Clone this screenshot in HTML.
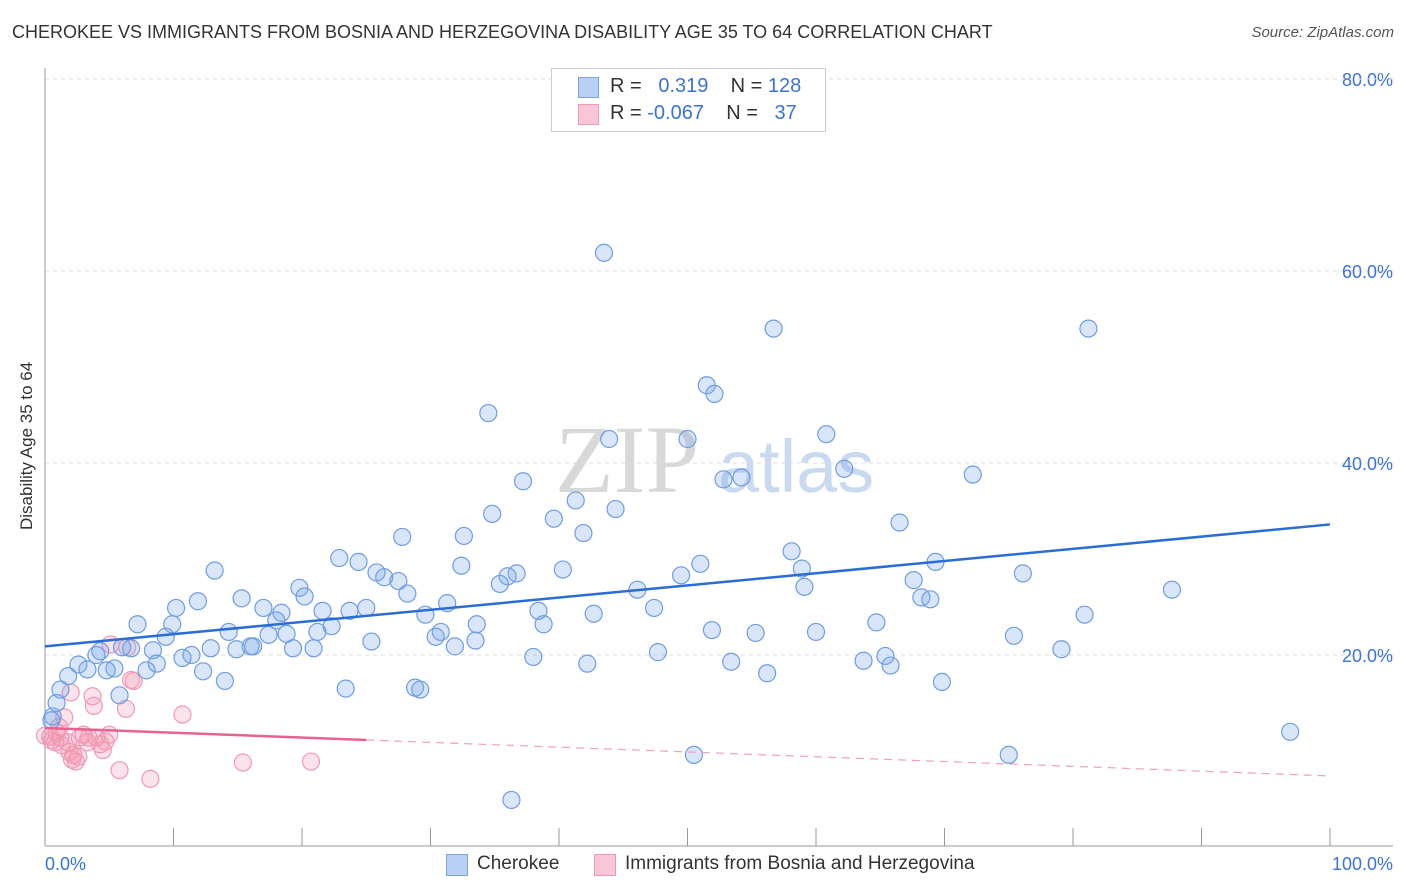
<!DOCTYPE html>
<html><head><meta charset="utf-8"><style>
body{margin:0;background:#fff;font-family:"Liberation Sans",sans-serif;}
#wrap{position:relative;width:1406px;height:892px;overflow:hidden;}
.t{position:absolute;white-space:nowrap;}
</style></head><body>
<div id="wrap">
<div class="t" style="left:12px;top:22px;font-size:18px;color:#333;">CHEROKEE VS IMMIGRANTS FROM BOSNIA AND HERZEGOVINA DISABILITY AGE 35 TO 64 CORRELATION CHART</div>
<div class="t" style="right:12px;top:24px;font-size:15px;color:#555;font-style:italic;">Source: ZipAtlas.com</div>
<div class="t" style="left:-48px;top:445px;font-size:17px;color:#333;transform:rotate(-90deg);transform-origin:center;width:150px;text-align:center;">Disability Age 35 to 64</div>
<svg id="plot" width="1406" height="892" style="position:absolute;left:0;top:0">
<text x="555" y="492" font-family="Liberation Serif,serif" font-size="96" fill="#d8d8d8">ZIP</text>
<text x="718" y="492" font-family="Liberation Sans,sans-serif" font-size="74" fill="#c9d9f0">atlas</text>
</svg>
<div style="position:absolute;left:551px;top:68px;width:273px;height:62px;border:1px solid #ccc;background:#fff;font-size:20px;">
<div style="position:absolute;left:26px;top:8px;width:19px;height:19px;background:#b8d0f3;border:1px solid #7aa3e0;"></div>
<div style="position:absolute;left:26px;top:35px;width:19px;height:19px;background:#f9c6d5;border:1px solid #ee9ab4;"></div>
<div class="t" style="left:58px;top:6px;color:#333;">R = <span style="color:#3b73d0">&nbsp;&nbsp;0.319</span>&nbsp;&nbsp;&nbsp;&nbsp;N = <span style="color:#3b73d0">128</span></div>
<div class="t" style="left:58px;top:33px;color:#333;">R = <span style="color:#3b73d0">-0.067</span>&nbsp;&nbsp;&nbsp;&nbsp;N = <span style="color:#3b73d0">&nbsp;&nbsp;37</span></div>
</div>
<div style="position:absolute;left:446px;top:853px;font-size:19px;color:#333;">
<div style="position:absolute;left:0;top:1px;width:20px;height:20px;background:#b8d0f3;border:1px solid #7aa3e0;"></div>
<div class="t" style="left:31px;top:0;">Cherokee</div>
<div style="position:absolute;left:148px;top:1px;width:20px;height:20px;background:#f9c6d5;border:1px solid #ee9ab4;"></div>
<div class="t" style="left:179px;top:0;">Immigrants from Bosnia and Herzegovina</div>
</div>
</div>
<script>
const yTicks=[20,40,60,80];
const yTickLabels=["20.0%","40.0%","60.0%","80.0%"];
const xTicks=[0,10,20,30,40,50,60,70,80,90,100];
const xEndLabels=["0.0%","100.0%"];
const blueX=[43.5,56.7,81.2,51.5,52.1,34.5,43.9,50.0,60.8,62.2,52.8,54.2,72.2,37.2,41.3,44.4,34.8,39.6,66.5,41.9,27.8,32.6,22.9,24.4,58.1,51.0,69.3,32.4,13.2,25.8,26.4,27.5,36.7,36.0,40.3,58.9,76.1,49.5,19.8,20.2,28.2,35.4,67.6,46.1,59.1,87.7,15.3,11.9,68.2,68.9,10.2,17.0,18.4,21.6,23.7,25.0,31.3,38.4,47.4,42.7,29.6,18.0,7.2,9.9,22.3,33.6,38.8,80.9,64.7,14.3,17.4,18.8,21.2,30.8,30.4,51.9,55.3,60.0,75.4,9.4,25.4,33.5,12.9,16.2,14.9,16.0,19.3,20.9,31.9,4.3,6.7,8.4,6.0,4.0,11.4,10.7,38.0,47.7,79.1,65.4,63.7,8.7,2.6,5.4,3.3,53.4,42.2,65.8,4.8,1.8,7.9,12.3,14.0,56.2,69.8,1.2,5.8,23.4,28.8,29.2,0.9,0.6,0.5,50.5,75.0,96.9,36.3];
const blueY=[61.9,54.0,54.0,48.1,47.2,45.2,42.5,42.5,43.0,39.4,38.3,38.5,38.8,38.1,36.1,35.2,34.7,34.2,33.8,32.7,32.3,32.4,30.1,29.7,30.8,29.5,29.7,29.3,28.8,28.6,28.1,27.7,28.5,28.2,28.9,29.0,28.5,28.3,27.0,26.1,26.4,27.4,27.8,26.8,27.1,26.8,25.9,25.6,26.0,25.8,24.9,24.9,24.4,24.6,24.6,24.9,25.4,24.6,24.9,24.3,24.2,23.6,23.2,23.2,23.0,23.2,23.2,24.2,23.4,22.4,22.1,22.2,22.4,22.4,21.9,22.6,22.3,22.4,22.0,21.9,21.4,21.5,20.7,20.9,20.6,20.9,20.7,20.7,20.9,20.4,20.7,20.5,20.8,20.0,20.0,19.7,19.8,20.3,20.6,19.9,19.4,19.1,19.0,18.6,18.5,19.3,19.1,18.9,18.4,17.8,18.4,18.3,17.3,18.1,17.2,16.4,15.8,16.5,16.6,16.4,15.0,13.6,13.2,9.6,9.6,12.0,4.9];
const pinkX=[5.1,6.4,2.0,3.7,3.8,6.3,6.7,6.9,10.7,1.5,1.1,0.9,0.4,0.5,0.8,1.3,1.8,3.0,3.3,4.0,3.4,4.7,4.5,1.9,2.2,2.4,2.6,2.1,5.8,8.2,15.4,20.7,0.0,1.2,2.7,5.0,4.3];
const pinkY=[21.1,20.8,16.1,15.7,14.7,14.4,17.4,17.3,13.8,13.5,12.5,11.9,11.5,11.1,10.9,10.6,10.9,11.7,10.9,11.4,11.4,11.0,10.1,9.9,9.6,8.9,9.4,9.1,8.0,7.1,8.8,8.9,11.6,11.4,11.4,11.7,10.7];
const blueTrend=[20.9,33.6];   // y at x=0, x=100
const pinkTrend=[12.4,7.4];    // y at x=0, x=100
const pinkSolidEnd=[25];

const X0=45,X1=1330,YB=847,PPY=9.6;
const sx=v=>X0+(X1-X0)*v/100;
const sy=v=>YB-v*PPY;
const NS="http://www.w3.org/2000/svg";
const svg=document.getElementById('plot');
function mk(tag,attrs){const e=document.createElementNS(NS,tag);for(const k in attrs)e.setAttribute(k,attrs[k]);svg.appendChild(e);return e;}

yTicks.forEach((t,i)=>{
 const g=mk('line',{x1:45,x2:1393,y1:sy(t),y2:sy(t),stroke:'#ddd','stroke-dasharray':'4,4'});
 
 
 const l=mk('text',{x:1393,y:sy(t)+7,'text-anchor':'end','font-size':18,fill:'#3b73d0','font-family':'Liberation Sans,sans-serif'});
 l.textContent=yTickLabels[i];
 
 
});
const tg=mk('line',{x1:45,x2:1393,y1:79,y2:79,stroke:'#ddd','stroke-dasharray':'4,4'});


const ya=mk('line',{x1:45,x2:45,y1:68,y2:846,stroke:'#999'});


const xa=mk('line',{x1:45,x2:1393,y1:846,y2:846,stroke:'#999'});


xTicks.forEach(t=>{
 const k=mk('line',{x1:sx(t),x2:sx(t),y1:828,y2:846,stroke:'#999'});
 
 
});
[[0,'start',45],[100,'end',1393]].forEach((p,i)=>{
 const l=mk('text',{x:p[2],y:870,'text-anchor':p[1],'font-size':18,fill:'#3b73d0','font-family':'Liberation Sans,sans-serif'});
 l.textContent=xEndLabels[i];
 
 
});

function drawPts(xs,ys,fill,stroke,name){
 xs.forEach((x,i)=>{
  const c=mk('circle',{cx:sx(x),cy:sy(ys[i]),r:8.5,fill:fill,stroke:stroke,'stroke-width':1.2});
  
  
 });
}
drawPts(pinkX,pinkY,'rgba(244,150,180,0.28)','#ee9ab4','bosnia-point');
drawPts(blueX,blueY,'rgba(120,165,235,0.28)','#6f9de0','cherokee-point');

const bt=mk('line',{x1:sx(0),y1:sy(blueTrend[0]),x2:sx(100),y2:sy(blueTrend[1]),stroke:'#2a6dd4','stroke-width':2.5});


const pAt=x=>pinkTrend[0]+(pinkTrend[1]-pinkTrend[0])*x/100;
const ps=mk('line',{x1:sx(0),y1:sy(pAt(0)),x2:sx(pinkSolidEnd[0]),y2:sy(pAt(pinkSolidEnd[0])),stroke:'#e8628e','stroke-width':2.5});


const pd=mk('line',{x1:sx(pinkSolidEnd[0]),y1:sy(pAt(pinkSolidEnd[0])),x2:sx(100),y2:sy(pAt(100)),stroke:'#f0a0ba','stroke-width':1.2,'stroke-dasharray':'8,6'});


</script>
</body></html>
